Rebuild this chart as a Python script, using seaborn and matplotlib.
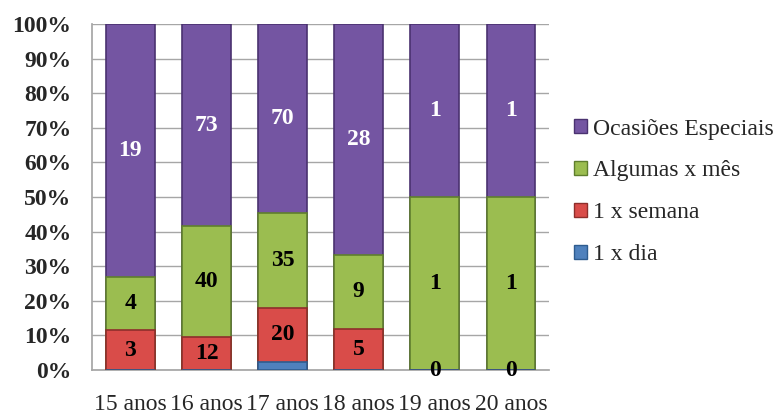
import matplotlib
matplotlib.use("Agg")
import matplotlib.pyplot as plt
import seaborn as sns
import pandas as pd
import numpy as np
from matplotlib.patches import Patch

categories = ["15 anos", "16 anos", "17 anos", "18 anos", "19 anos", "20 anos"]
dia = [0, 0, 3, 0, 0, 0]
semana = [3, 12, 20, 5, 0, 0]
algumas = [4, 40, 35, 9, 1, 1]
ocasioes = [19, 73, 70, 28, 1, 1]

series_names = ["1 x dia", "1 x semana", "Algumas x mês", "Ocasiões Especiais"]
series_vals = [dia, semana, algumas, ocasioes]
colors = ["#4F81BD", "#D94C49", "#9BBD50", "#7455A2"]
edges = ["#2E5C8F", "#8E2E2B", "#5F7E2E", "#4A3270"]
label_colors = [None, "black", "black", "white"]

df = pd.DataFrame({"cat": categories})
for n, v in zip(series_names, series_vals):
    df[n] = v
tot = df[series_names].sum(axis=1)
pct = df[series_names].div(tot, axis=0) * 100
cum = pct.cumsum(axis=1)

sns.set_theme(style="white")
plt.rcParams["font.family"] = ["Liberation Serif", "DejaVu Serif"]

fig = plt.figure(figsize=(7.82, 4.17), dpi=100)
ax = fig.add_axes([0.118, 0.1127, 0.584, 0.8297])

for i in range(len(series_names) - 1, -1, -1):
    d = pd.DataFrame({"cat": categories, "v": cum[series_names[i]].values})
    sns.barplot(data=d, x="cat", y="v", order=categories, color=colors[i],
                edgecolor=edges[i], linewidth=1.2, width=0.64, saturation=1,
                ax=ax, zorder=3)

# labels
for i, name in enumerate(series_names):
    if label_colors[i] is None:
        continue
    for j in range(len(categories)):
        lo = cum[name].values[j] - pct[name].values[j]
        hi = cum[name].values[j]
        yc = (lo + hi) / 2
        ax.text(j, yc, str(series_vals[i][j]), ha="center", va="center",
                fontsize=17, fontweight="bold", color=label_colors[i], zorder=5)

ax.set_xlim(-0.5, 5.5)
ax.set_ylim(0, 100)
ax.set_yticks(np.arange(0, 101, 10))
ax.set_yticklabels([f"{t}%" for t in range(0, 101, 10)], fontsize=17, fontweight="bold")
ax.set_xticks(range(len(categories)))
ax.set_xticklabels(categories, fontsize=17)
ax.tick_params(axis="x", pad=17, length=0)
ax.tick_params(axis="y", pad=15, length=0)
ax.set_xlabel("")
ax.set_ylabel("")
ax.yaxis.grid(True, color="#A6A6A6", linewidth=1, zorder=0)
ax.xaxis.grid(False)
for s in ["top", "right"]:
    ax.spines[s].set_visible(False)
ax.spines["left"].set_color("#A6A6A6")
ax.spines["bottom"].set_color("#A6A6A6")
ax.set_axisbelow(True)

handles = [Patch(facecolor=colors[i], edgecolor=edges[i], label=series_names[i])
           for i in range(len(series_names) - 1, -1, -1)]
fig.legend(handles=handles, loc="upper left", bbox_to_anchor=(0.722, 0.738),
           frameon=False, fontsize=17, handlelength=0.55, handleheight=0.55,
           handletextpad=0.25, labelspacing=0.88, borderaxespad=0)

fig.savefig("out.png", dpi=100)
